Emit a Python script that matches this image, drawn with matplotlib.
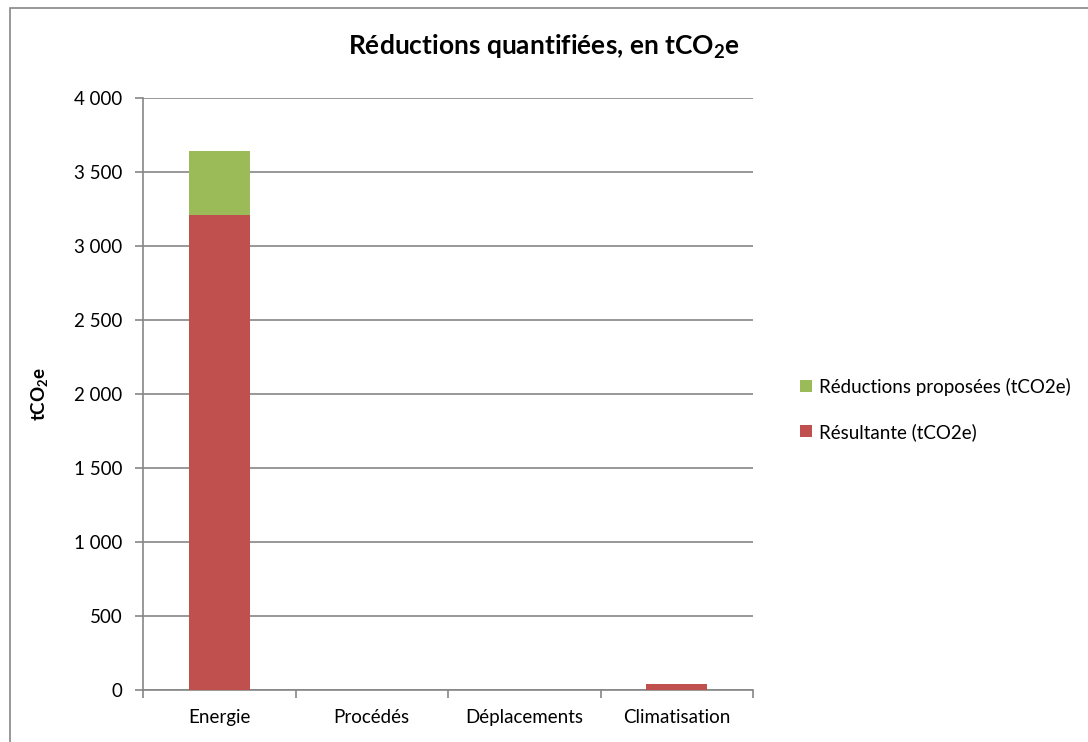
import numpy as np
import matplotlib.pyplot as plt
from matplotlib.patches import Rectangle

plt.rcParams['font.family'] = ['Lato', 'DejaVu Sans']
plt.rcParams['mathtext.fontset'] = 'custom'
plt.rcParams['mathtext.rm'] = 'Lato'
plt.rcParams['mathtext.bf'] = 'Lato:bold'

categories = ["Energie", "Procédés", "Déplacements", "Climatisation"]
resultante = [3210, 0, 0, 40]
reductions = [432, 0, 0, 0]
yticks = [0, 500, 1000, 1500, 2000, 2500, 3000, 3500, 4000]

red = "#C0504D"
green = "#9BBB59"
grey = "#868686"

fig = plt.figure(figsize=(10.88, 7.42), dpi=100)
ax = fig.add_axes([143 / 1088, 1 - 690 / 742, 610 / 1088, 592 / 742])

# outer chart frame
fig.patches.append(Rectangle((10 / 1088, -0.05), 1.2, 1 - 8 / 742 + 0.05,
                             transform=fig.transFigure, fill=False,
                             edgecolor=grey, linewidth=1.2))

x = np.arange(len(categories))
ax.bar(x, resultante, width=0.4, color=red, label="Résultante (tCO2e)", zorder=3)
ax.bar(x, reductions, width=0.4, bottom=resultante, color=green,
       label="Réductions proposées (tCO2e)", zorder=3)

ax.set_xlim(-0.5, len(categories) - 0.5)
ax.set_ylim(0, 4000)
ax.set_yticks(yticks)
ax.set_yticklabels([f"{v:,}".replace(",", " ") for v in yticks], fontsize=13.5)
ax.yaxis.grid(True, color=grey, linewidth=1.2, zorder=0)

ax.set_xticks(x)
ax.set_xticklabels(categories, fontsize=13.5)
ax.tick_params(axis="x", length=0, pad=14)
ax.set_xticks(np.arange(-0.5, len(categories)), minor=True)
ax.tick_params(axis="x", which="minor", length=6, color=grey, width=1.2)
ax.tick_params(axis="y", length=6, color=grey, width=1.2, pad=9)

for s in ["top", "right"]:
    ax.spines[s].set_visible(False)
for s in ["left", "bottom"]:
    ax.spines[s].set_color(grey)
    ax.spines[s].set_linewidth(1.2)

ax.set_ylabel("tCO$_\\mathbf{2}$e", fontsize=13.5, fontweight="bold", labelpad=16)
fig.text(0.5, 1 - 47 / 742, "Réductions quantifiées, en tCO$_\\mathbf{2}$e",
         ha="center", va="center", fontsize=19, fontweight="bold")

handles, labels = ax.get_legend_handles_labels()
ax.legend(handles[::-1], labels[::-1], loc="center left",
          bbox_to_anchor=(1.05, 0.474), frameon=False, fontsize=13.5,
          handlelength=0.6, handleheight=0.6, handletextpad=0.4,
          labelspacing=1.45)

fig.savefig("out.png", dpi=100)
